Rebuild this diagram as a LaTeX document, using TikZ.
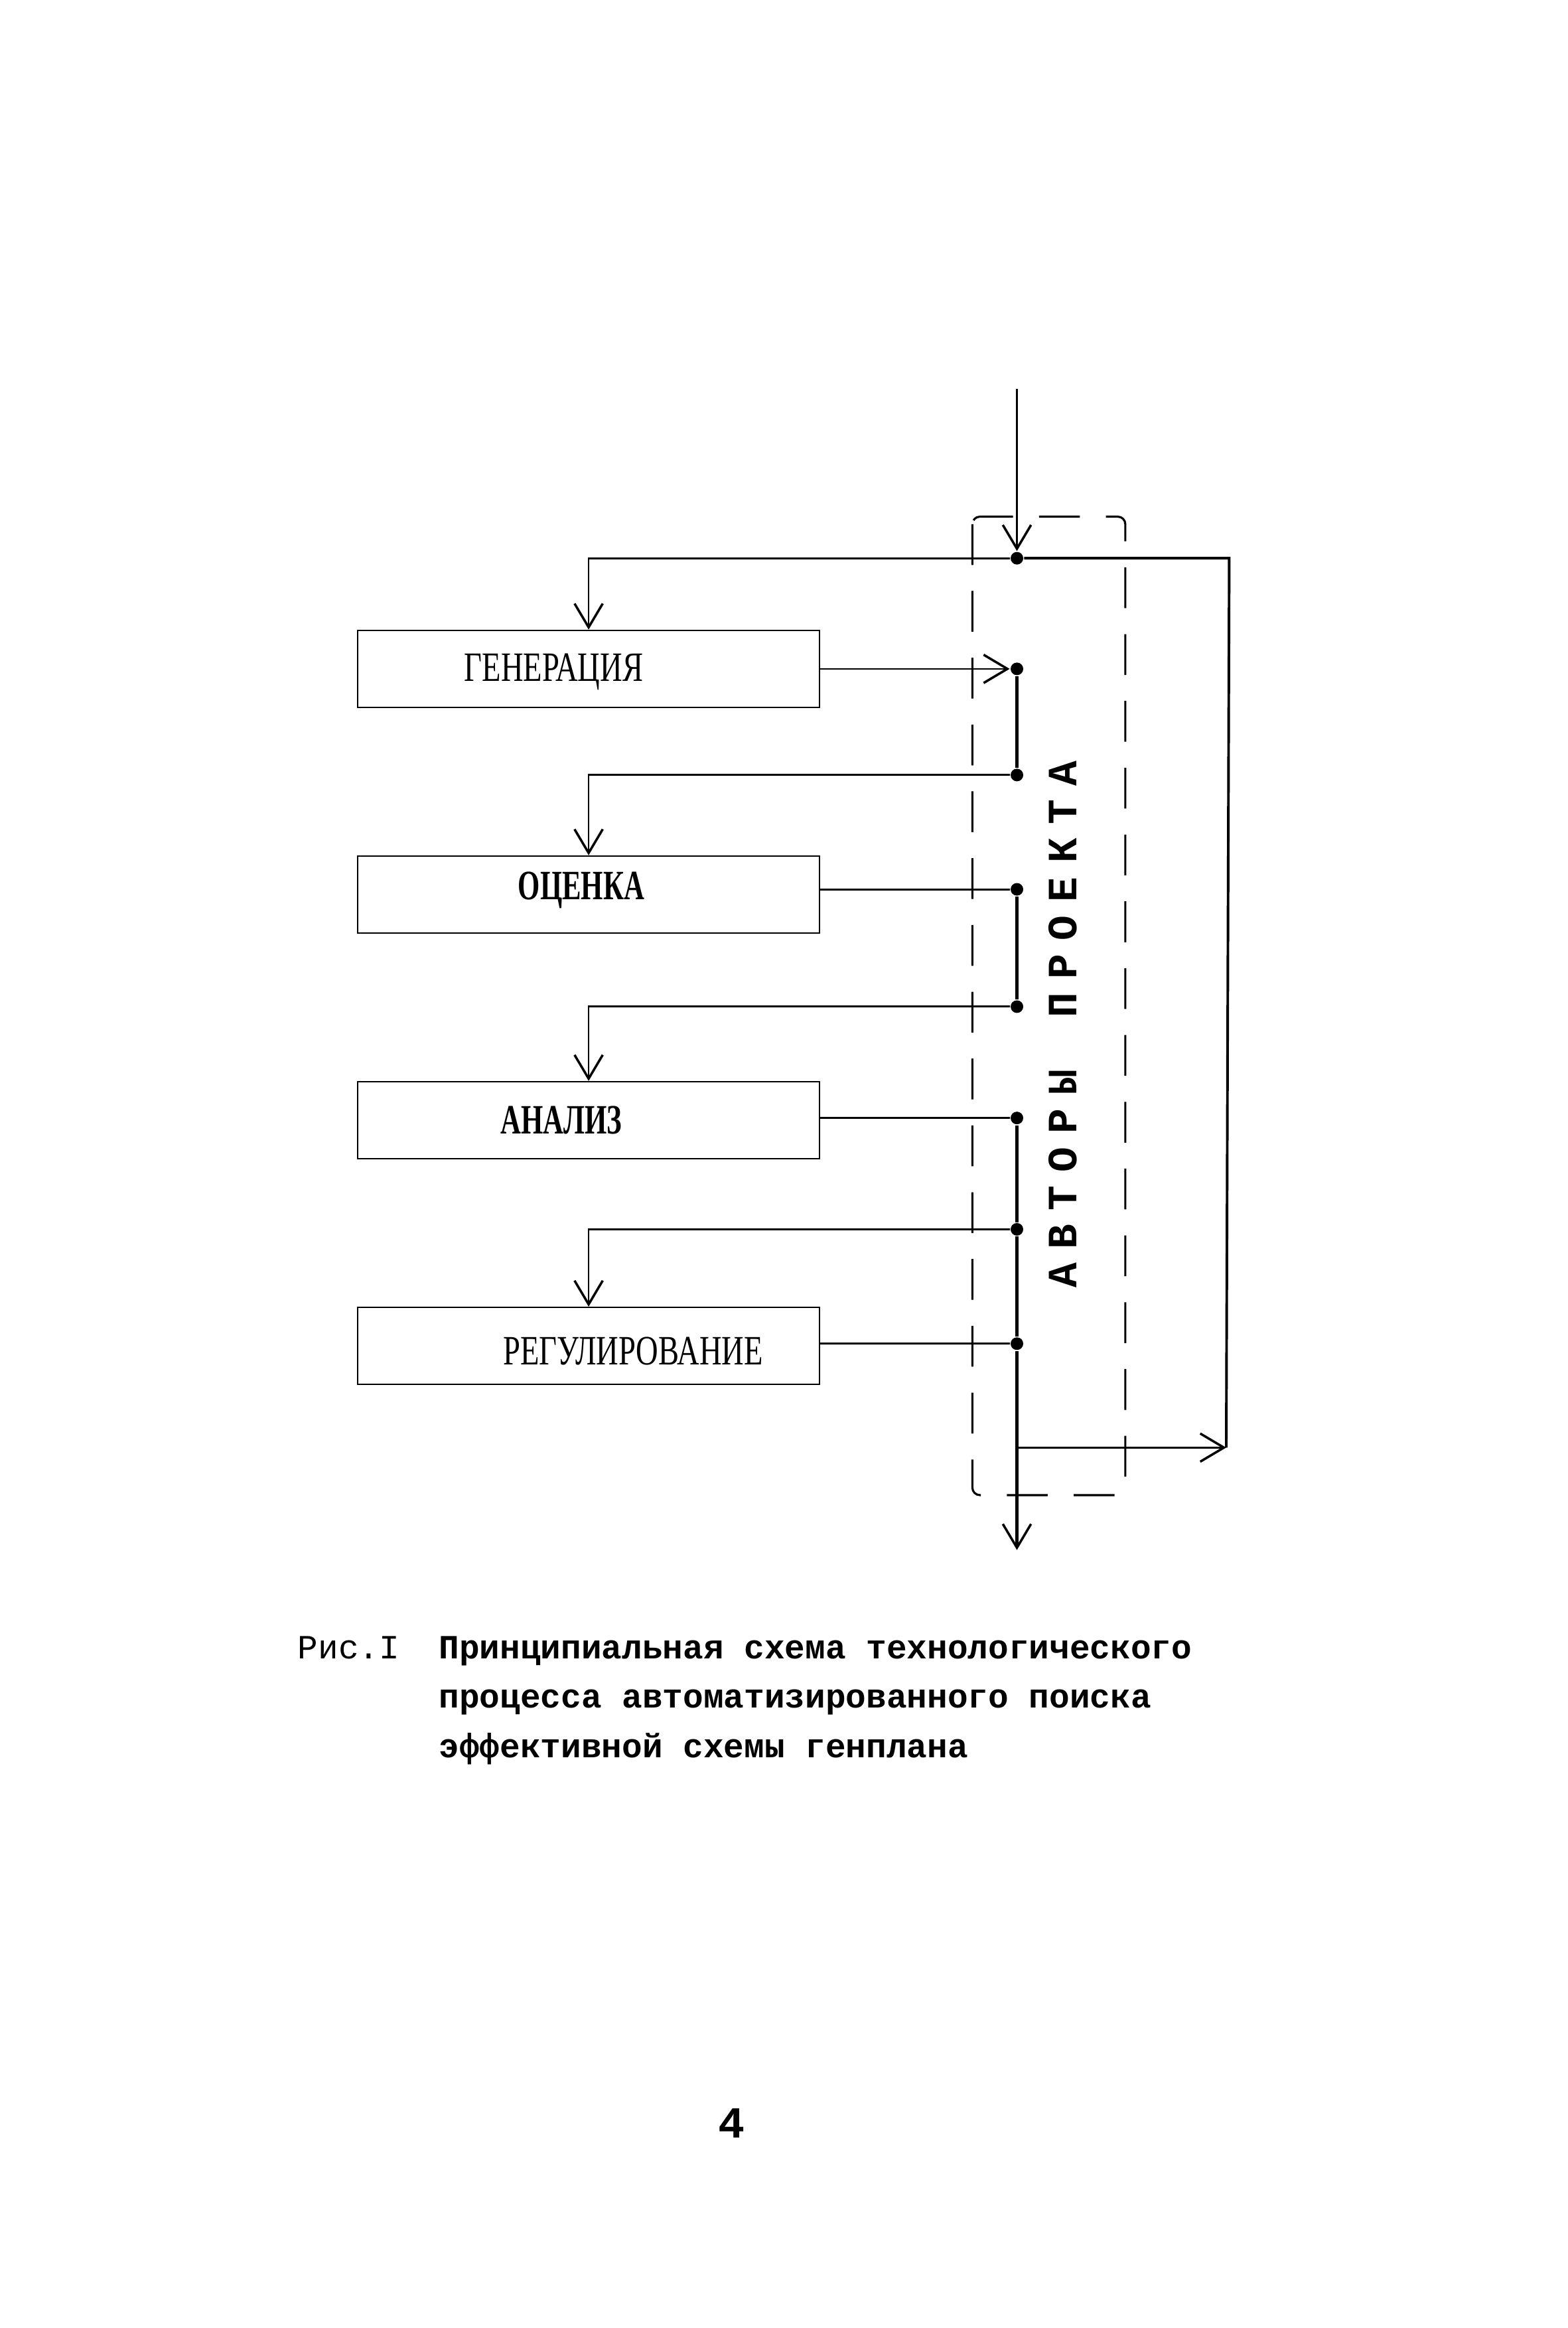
\documentclass[tikz,border=0pt]{standalone}
\usepackage{fontspec}
\usepackage{graphicx}
\usetikzlibrary{arrows.meta,positioning}
\newfontfamily\typefont{Liberation Mono}
\newfontfamily\blockfont{Liberation Serif}
\newcommand{\blocktext}[2][0.74]{\scalebox{#1}[1]{#2}}

\tikzset{%
  >={Straight Barb[length=3.2mm,width=3.8mm,line width=0.9pt]},
  % Specifications for style of nodes:
        block/.style = {rectangle, draw=black, line width=0.5pt,
                        minimum width=62.2mm, minimum height=10.4mm,
                        inner sep=0pt},
   blockLabel/.style = {font=\blockfont\fontsize{16}{18}\selectfont,
                        inner sep=0pt},
          dot/.style = {circle, fill=black, inner sep=0pt,
                        minimum size=1.7mm},
        spine/.style = {line width=1.2pt},
  authorsEdge/.style = {dash pattern=on 5.5mm off 3.5mm, line width=0.8pt},
  captionText/.style = {font=\typefont\bfseries\fontsize{13}{19}\selectfont,
                        inner sep=0pt, anchor=base west},
}

\begin{document}
\begin{tikzpicture}[x=0.2mm, y=-0.2mm, node distance=30.4mm, line width=0.7pt]
  \useasboundingbox (0,0) rectangle (1056,1568);
  % Specification of nodes (position, etc.)
  \node (genBlock)  [block] at (396.5,450.5) {};
  \node (evalBlock) [block, below of=genBlock]  {};
  \node (anBlock)   [block, below of=evalBlock] {};
  \node (regBlock)  [block, below of=anBlock]   {};
  \node (genLabel)  [blockLabel] at ([xshift=-4.7mm,yshift=-0.4mm]genBlock.center)
                                              {\blocktext{ГЕНЕРАЦИЯ}};
  \node (evalLabel) [blockLabel] at ([xshift=-1mm,yshift=0.6mm]evalBlock.center)
                                              {\blocktext[0.68]{\bfseries ОЦЕНКА}};
  \node (anLabel)   [blockLabel] at ([xshift=-3.7mm]anBlock.center)
                                              {\blocktext[0.68]{\bfseries АНАЛИЗ}};
  \node (regLabel)  [blockLabel] at ([xshift=6mm,yshift=-0.7mm]regBlock.center)
                                              {\blocktext{РЕГУЛИРОВАНИЕ}};
  % junctions on the common line
  \node (topJoint)  [dot] at (685,376)   {};
  \node (genOut)    [dot] at (685,450.5) {};
  \node (genJoint)  [dot] at (685,522)   {};
  \node (evalOut)   [dot] at (685,599)   {};
  \node (evalJoint) [dot] at (685,678)   {};
  \node (anOut)     [dot] at (685,753)   {};
  \node (anJoint)   [dot] at (685,828)   {};
  \node (regOut)    [dot] at (685,905)   {};
  \coordinate (inputStart) at (685,262);
  \coordinate (loopJoint)  at (685,975);
  \coordinate (outputEnd)  at (685,1044);
  \coordinate (loopTop)    at (828,376);
  \coordinate (loopBottom) at (826,975);
  % dashed frame of the authors
  \draw[authorsEdge, rounded corners=1mm] (655,348) rectangle (758,1007);
  \node (authorsLabel) [font=\typefont\bfseries\fontsize{16}{18}\selectfont,
                        rotate=90, inner sep=0pt] at (716,690)
     {\foreach \ch in {А,В,Т,О,Р,Ы,{},П,Р,О,Е,К,Т,А}{\makebox[5.2mm]{\ch}}};
  % Specification of lines between nodes specified above
  \draw[->]        (inputStart) -- (topJoint);
  \draw[->]          (topJoint) -| (genBlock.north);
  \draw[line width=1pt] (topJoint) -- (loopTop) -- (loopBottom);
  \draw[->] (genOut -| genBlock.east) -- (genOut);
  \draw[spine]         (genOut) -- (genJoint);
  \draw[->]          (genJoint) -| (evalBlock.north);
  \draw     (evalOut -| evalBlock.east) -- (evalOut);
  \draw[spine]        (evalOut) -- (evalJoint);
  \draw[->]         (evalJoint) -| (anBlock.north);
  \draw     (anOut -| anBlock.east) -- (anOut);
  \draw[spine]          (anOut) -- (anJoint) -- (regOut);
  \draw[->]           (anJoint) -| (regBlock.north);
  \draw     (regOut -| regBlock.east) -- (regOut);
  \draw[->, spine]     (regOut) -- (loopJoint) -- (outputEnd);
  \draw[->]         (loopJoint) -- (loopBottom);
  % caption
  \node (figLabel) [captionText, font=\typefont\fontsize{13}{19}\selectfont]
                               at (200,1117)   {Рис.I};
  \node (captionA) [captionText] at (295,1117)   {Принципиальная схема технологического};
  \node (captionB) [captionText] at (295,1150.5) {процесса автоматизированного поиска};
  \node (captionC) [captionText] at (295,1184)   {эффективной схемы генплана};
  \node (pageNumber) [font=\typefont\bfseries\fontsize{17}{19}\selectfont]
                               at (493,1430)   {4};
\end{tikzpicture}
\end{document}
